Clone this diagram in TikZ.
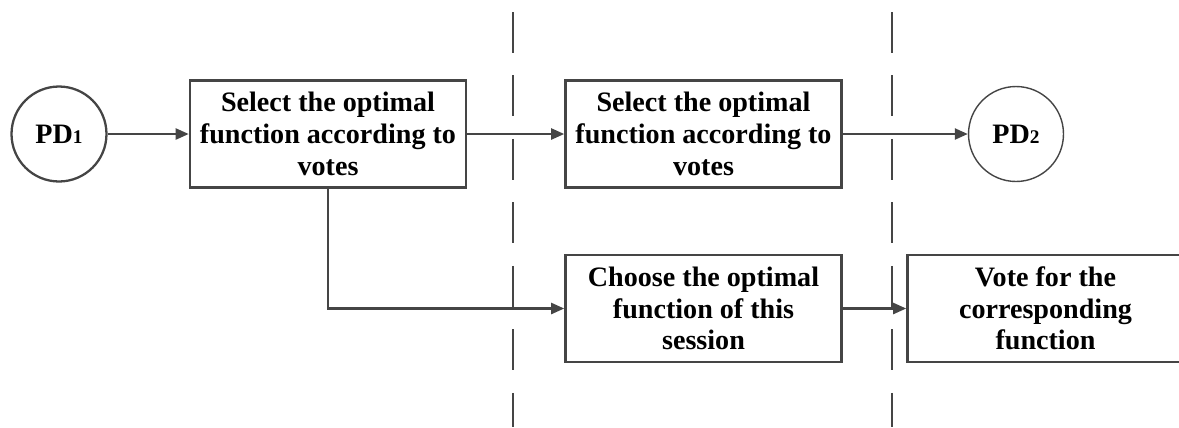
\documentclass[tikz,border=0pt]{standalone}
\usepackage{fontspec}
\setmainfont{Liberation Serif}
\usetikzlibrary{arrows.meta,positioning}
\definecolor{linegray}{HTML}{454545}
\newcommand{\sub}[1]{{\fontsize{11}{11}\selectfont #1}}
\begin{document}
\begin{tikzpicture}[x=0.02cm,y=-0.02cm,
  box/.style={draw=linegray,line width=1.5pt,minimum width=5.52cm,minimum height=2.14cm,
    align=center,font=\fontsize{16}{18}\selectfont\bfseries},
  pd/.style={circle,draw=linegray,line width=1.3pt,minimum size=1.9cm,inner sep=0pt,
    font=\fontsize{16}{18}\selectfont\bfseries},
  flow/.style={draw=linegray,line width=1.3pt,-{Triangle[length=0.26cm,width=0.22cm]}},
  lane/.style={draw=linegray,line width=1.1pt,dash pattern=on 0.82cm off 0.45cm}]
\useasboundingbox (0,0) rectangle (1179,427);
\draw[lane] (513,12) -- (513,427);
\draw[lane] (892,12) -- (892,427);
\node (pdone) [pd] at (59,134) {PD\sub{1}};
\node (select) [box] at (328,134) {Select the optimal\\function according to\\votes};
\node (selecttwo) [box] at (703.5,134) {Select the optimal\\function according to\\votes};
\node (pdtwo) [pd,line width=0.8pt] at (1016,134) {PD\sub{2}};
\node (choose) [box] at (703.5,308.5) {Choose the optimal\\function of this\\session};
\node (vote) [box] at (1045.5,308.5) {Vote for the\\corresponding\\function};

\draw[flow] (pdone) -- (select);
\draw[flow] (select) -- (selecttwo);
\draw[flow] (selecttwo) -- (pdtwo);
\draw[flow] (select.south) |- (choose.west);
\draw[flow] (choose) -- (vote);
\end{tikzpicture}
\end{document}
